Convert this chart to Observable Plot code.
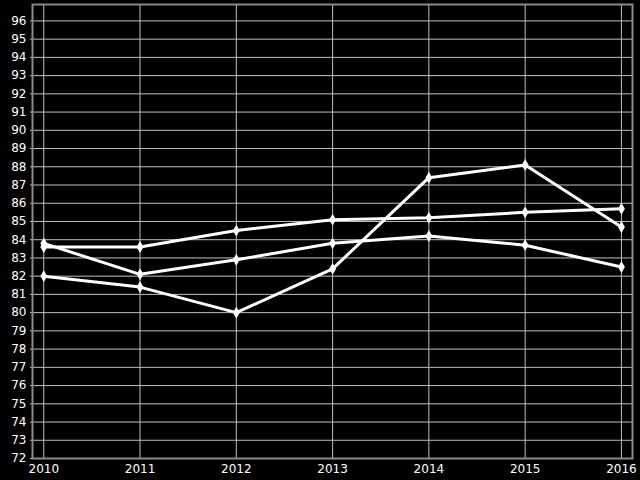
<!DOCTYPE html>
<html>
<head>
<meta charset="utf-8">
<script src="https://cdn.jsdelivr.net/npm/d3@7"></script>
<script src="https://cdn.jsdelivr.net/npm/@observablehq/plot@0.6"></script>
<style>
  html, body { margin: 0; padding: 0; background: #000; }
  #chart svg { display: block; }
</style>
</head>
<body>
<div id="chart"></div>
<script>
const years = [2010, 2011, 2012, 2013, 2014, 2015, 2016];
const seriesA = [83.8, 82.1, 82.9, 83.8, 84.2, 83.7, 82.5];
const seriesB = [83.6, 83.6, 84.5, 85.1, 85.2, 85.5, 85.7];
const seriesC = [82.0, 81.4, 80.0, 82.4, 87.4, 88.1, 84.7];
const yTicks = d3.range(72, 97, 1);

const data = [];
[["A", seriesA], ["B", seriesB], ["C", seriesC]].forEach(([name, vals]) => {
  vals.forEach((v, i) => data.push({series: name, year: years[i], value: v}));
});

const chart = Plot.plot({
  width: 640,
  height: 480,
  marginLeft: 32,
  marginRight: 8,
  marginTop: 4,
  marginBottom: 22,
  style: {background: "#000", color: "#fff", fontFamily: "DejaVu Sans", fontSize: "12px"},
  x: {domain: [2009.883, 2016.115], ticks: years, tickFormat: d => String(d), label: null, tickSize: 0, tickPadding: 6},
  y: {domain: [72, 96.9], ticks: yTicks, label: null, tickSize: 2, tickPadding: 4},
  marks: [
    Plot.gridY(yTicks, {stroke: "#c0c0c0", strokeOpacity: 1, strokeWidth: 1}),
    Plot.gridX(years, {stroke: "#c0c0c0", strokeOpacity: 1, strokeWidth: 1}),
    Plot.axisY({ticks: yTicks, tickSize: 2, tickPadding: 4, stroke: "#c0c0c0", fill: "#fff", fontSize: 12}),
    Plot.axisX({ticks: years, tickFormat: d => String(d), tickSize: 0, tickPadding: 6, fill: "#fff", fontSize: 12}),
    Plot.frame({stroke: "#8a8a8a", strokeWidth: 2}),
    Plot.line(data, {x: "year", y: "value", z: "series", stroke: "#fff", strokeWidth: 3}),
    Plot.dot(data, {x: "year", y: "value", symbol: "diamond", fill: "#fff", r: 3.6})
  ]
});
document.getElementById("chart").appendChild(chart);
</script>
</body>
</html>
